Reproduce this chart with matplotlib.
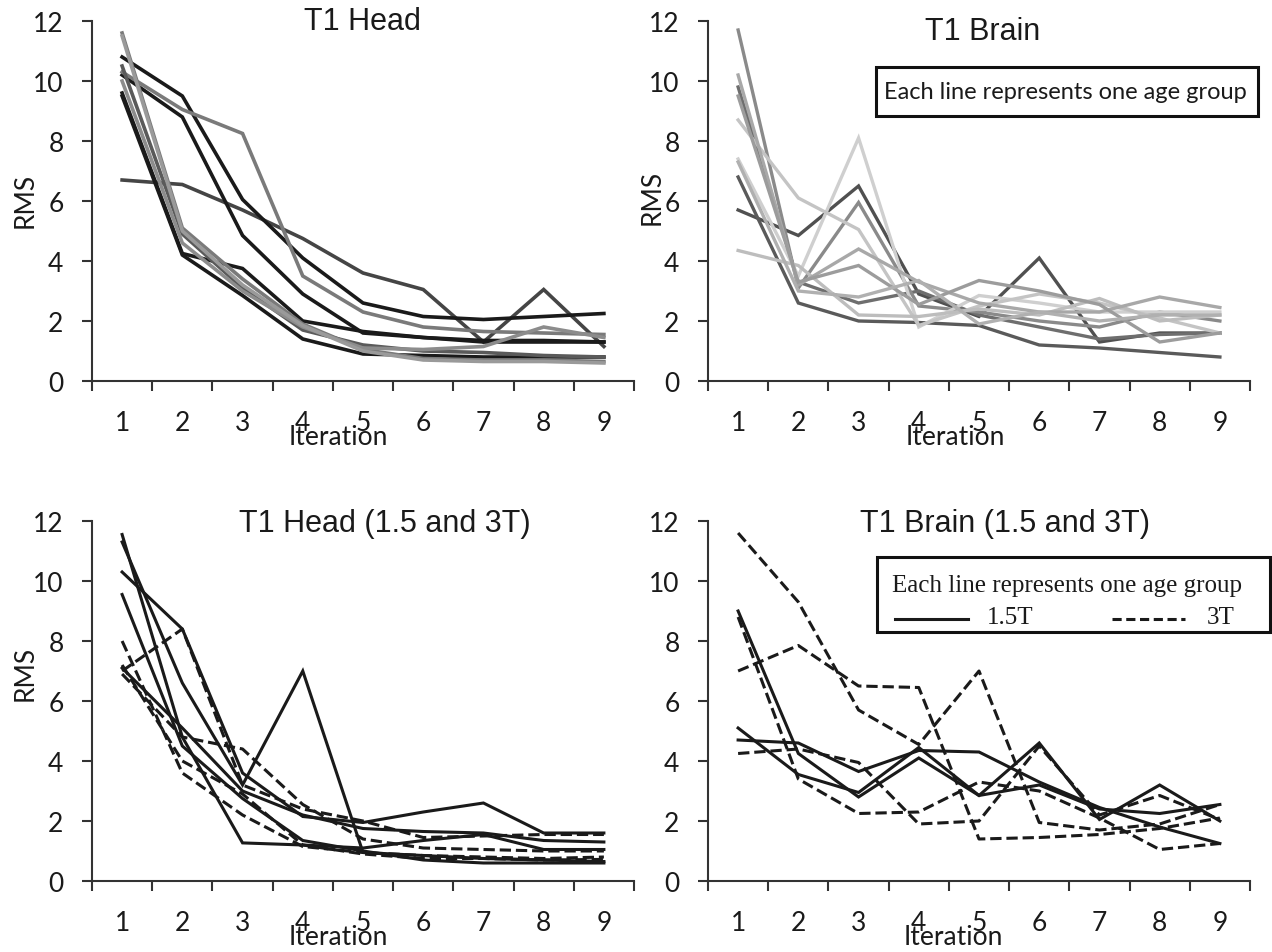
import matplotlib
matplotlib.use("Agg")
import matplotlib.pyplot as plt
from matplotlib.patches import Rectangle
from matplotlib.lines import Line2D

W, H = 1272, 953

iterations = [1, 2, 3, 4, 5, 6, 7, 8, 9]
y_ticks = [0, 2, 4, 6, 8, 10, 12]

# T1 Head: one line per age group
head_series = [
    [6.7, 6.55, 5.7, 4.75, 3.6, 3.05, 1.3, 3.05, 1.15],
    [10.8, 9.5, 6.05, 4.1, 2.6, 2.15, 2.05, 2.15, 2.25],
    [10.2, 8.8, 4.85, 2.9, 1.6, 1.45, 1.35, 1.35, 1.3],
    [10.3, 9.05, 8.25, 3.5, 2.3, 1.8, 1.65, 1.6, 1.55],
    [9.6, 4.25, 3.75, 2.0, 1.65, 1.45, 1.3, 1.3, 1.3],
    [9.5, 4.2, 2.85, 1.4, 0.9, 0.85, 0.8, 0.8, 0.8],
    [11.6, 5.1, 3.4, 1.9, 1.05, 0.75, 0.7, 0.7, 0.65],
    [10.5, 4.9, 3.1, 1.7, 1.2, 1.0, 0.95, 0.85, 0.8],
    [10.0, 4.6, 3.0, 1.8, 1.1, 1.05, 1.15, 1.8, 1.45],
    [11.5, 5.0, 3.2, 1.85, 1.0, 0.7, 0.65, 0.65, 0.6],
]
head_colors = ["#454545", "#1a1a1a", "#1a1a1a", "#7a7a7a", "#1a1a1a",
               "#1a1a1a", "#7a7a7a", "#5a5a5a", "#8c8c8c", "#9a9a9a"]

# T1 Brain: one line per age group
brain_series = [
    [5.7, 4.85, 6.5, 2.9, 2.15, 4.1, 1.3, 1.6, 1.6],
    [6.8, 2.6, 2.0, 1.95, 1.85, 1.2, 1.1, 0.95, 0.8],
    [9.8, 3.3, 2.6, 3.0, 2.2, 1.8, 1.4, 1.55, 1.6],
    [11.7, 3.1, 5.95, 2.5, 2.3, 2.0, 1.8, 2.3, 2.0],
    [7.4, 3.5, 8.1, 1.8, 2.85, 2.6, 2.3, 2.3, 2.3],
    [8.7, 6.1, 5.05, 1.85, 2.5, 2.9, 2.6, 2.1, 1.6],
    [4.35, 3.85, 2.2, 2.15, 2.4, 2.2, 2.75, 2.0, 2.2],
    [10.2, 3.2, 4.4, 3.3, 2.6, 2.3, 2.3, 2.8, 2.45],
    [9.5, 3.3, 3.85, 2.55, 3.35, 3.0, 2.55, 1.3, 1.6],
    [7.3, 3.0, 2.8, 3.35, 1.9, 2.3, 2.0, 2.2, 2.2],
]
brain_colors = ["#505050", "#5a5a5a", "#6e6e6e", "#8a8a8a", "#cfcfcf",
                "#c4c4c4", "#bdbdbd", "#a8a8a8", "#9c9c9c", "#b0b0b0"]

# T1 Head split by field strength
head15_series = [
    [11.3, 6.6, 3.2, 7.0, 0.95, 0.85, 0.75, 0.7, 0.65],
    [11.55, 4.8, 1.27, 1.2, 1.1, 1.35, 1.55, 1.05, 1.05],
    [10.3, 8.4, 3.6, 2.15, 1.95, 2.3, 2.6, 1.6, 1.6],
    [9.55, 4.5, 2.75, 1.35, 1.0, 0.7, 0.6, 0.6, 0.6],
    [7.1, 5.1, 3.0, 2.2, 1.75, 1.65, 1.6, 1.35, 1.3],
]
head3_series = [
    [8.0, 3.6, 2.2, 1.15, 0.95, 0.85, 0.8, 0.75, 0.8],
    [7.0, 8.4, 3.2, 2.4, 2.0, 1.45, 1.5, 1.55, 1.55],
    [6.9, 4.8, 4.4, 2.55, 1.4, 1.1, 1.05, 1.0, 1.0],
    [7.2, 4.0, 2.9, 1.2, 0.9, 0.75, 0.75, 0.7, 0.72],
]

# T1 Brain split by field strength
brain15_series = [
    [9.0, 4.25, 2.8, 4.1, 2.85, 4.6, 2.05, 3.2, 2.0],
    [5.1, 3.55, 2.95, 4.45, 2.85, 3.2, 2.4, 2.25, 2.55],
    [4.7, 4.6, 3.65, 4.35, 4.3, 3.3, 2.45, 1.8, 1.25],
]
brain3_series = [
    [11.6, 9.3, 5.7, 4.55, 7.0, 1.95, 1.7, 1.9, 2.55],
    [7.0, 7.85, 6.5, 6.45, 1.4, 1.45, 1.55, 1.75, 2.1],
    [8.8, 3.4, 2.25, 2.3, 3.3, 3.0, 2.1, 1.05, 1.25],
    [4.25, 4.4, 3.95, 1.9, 2.0, 4.5, 2.2, 2.85, 2.05],
]

TICK_FONT = "Lato"
TITLE_FONT = "Liberation Sans"
SPINE = "#333333"

fig = plt.figure(figsize=(W / 100, H / 100), dpi=100)
fig.patch.set_facecolor("white")


def fx(px):
    return px / W


def fy(py):
    return 1 - py / H


def make_axes(left, top, right, bottom):
    ax = fig.add_axes([fx(left), fy(bottom), fx(right - left), (bottom - top) / H])
    ax.set_xlim(0.5, 9.5)
    ax.set_ylim(0, 12)
    for s in ("top", "right"):
        ax.spines[s].set_visible(False)
    for s in ("left", "bottom"):
        ax.spines[s].set_color(SPINE)
        ax.spines[s].set_linewidth(1.5)
    ax.set_yticks(y_ticks)
    ax.set_yticklabels([str(v) for v in y_ticks], fontfamily=TICK_FONT, fontsize=19)
    ax.tick_params(axis="y", direction="out", length=7.5, width=1.5, color=SPINE,
                   pad=13, labelcolor="#1a1a1a")
    ax.set_xticks(iterations)
    ax.set_xticklabels([str(v) for v in iterations], fontfamily=TICK_FONT, fontsize=19)
    ax.tick_params(axis="x", which="major", length=0, pad=21, labelcolor="#1a1a1a")
    ax.set_xticks([i + 0.5 for i in range(0, 10)], minor=True)
    ax.tick_params(axis="x", which="minor", direction="out", length=7.5, width=1.5,
                   color=SPINE)
    ax.set_facecolor("none")
    return ax


ax_tl = make_axes(92, 22, 634, 382)
ax_tr = make_axes(708, 22, 1250, 382)
ax_bl = make_axes(92, 522, 634, 882)
ax_br = make_axes(708, 522, 1250, 882)

for vals, c in zip(head_series, head_colors):
    ax_tl.plot(iterations, vals, color=c, lw=2.6, solid_joinstyle="miter", clip_on=False)
for vals, c in zip(brain_series, brain_colors):
    ax_tr.plot(iterations, vals, color=c, lw=2.4, solid_joinstyle="miter", clip_on=False)
for vals in head15_series:
    ax_bl.plot(iterations, vals, color="#1a1a1a", lw=2.2, solid_joinstyle="miter", clip_on=False)
for vals in head3_series:
    ax_bl.plot(iterations, vals, color="#1a1a1a", lw=2.2, ls="--", clip_on=False)
for vals in brain15_series:
    ax_br.plot(iterations, vals, color="#1a1a1a", lw=2.2, solid_joinstyle="miter", clip_on=False)
for vals in brain3_series:
    ax_br.plot(iterations, vals, color="#1a1a1a", lw=2.2, ls="--", clip_on=False)

# panel titles
titles = [("T1 Head", 362, 22), ("T1 Brain", 983, 32),
          ("T1 Head (1.5 and 3T)", 385, 524), ("T1 Brain (1.5 and 3T)", 1005, 524)]
for txt, x, y in titles:
    fig.text(fx(x), fy(y), txt, ha="center", va="center", fontfamily=TITLE_FONT,
             fontsize=22, color="#1a1a1a")

# axis labels
for x, y in [(338, 438), (955, 438), (338, 938), (953, 938)]:
    fig.text(fx(x), fy(y), "Iteration", ha="center", va="center", fontfamily=TICK_FONT,
             fontsize=19, color="#1a1a1a")
for x, y in [(25, 200), (652, 197), (25, 673)]:
    fig.text(fx(x), fy(y), "RMS", ha="center", va="center", rotation=90,
             fontfamily=TICK_FONT, fontsize=19, color="#1a1a1a")

# note box on the brain panel
fig.patches.append(Rectangle((fx(876), fy(117)), fx(1258 - 876), (117 - 68) / H,
                             transform=fig.transFigure, fill=False, edgecolor="#111111",
                             lw=2.2))
fig.text(fx(884), fy(92.5), "Each line represents one age group", ha="left", va="center",
         fontfamily=TICK_FONT, fontsize=17, color="#1a1a1a")

# legend box on the split brain panel
fig.patches.append(Rectangle((fx(877), fy(633)), fx(1270 - 877), (633 - 558) / H,
                             transform=fig.transFigure, fill=False, edgecolor="#111111",
                             lw=2.2))
fig.text(fx(892), fy(586), "Each line represents one age group", ha="left", va="center",
         fontfamily="Liberation Serif", fontsize=18, color="#1a1a1a")
fig.lines.append(Line2D([fx(895), fx(968)], [fy(620), fy(620)], transform=fig.transFigure,
                        color="#1a1a1a", lw=2.2))
fig.text(fx(987), fy(618), "1.5T", ha="left", va="center",
         fontfamily="Liberation Serif", fontsize=18, color="#1a1a1a")
fig.lines.append(Line2D([fx(1112), fx(1185)], [fy(620), fy(620)], transform=fig.transFigure,
                        color="#1a1a1a", lw=2.2, ls=(0, (3.0, 1.5))))
fig.text(fx(1207), fy(618), "3T", ha="left", va="center",
         fontfamily="Liberation Serif", fontsize=18, color="#1a1a1a")

fig.savefig("out.png", dpi=100)
